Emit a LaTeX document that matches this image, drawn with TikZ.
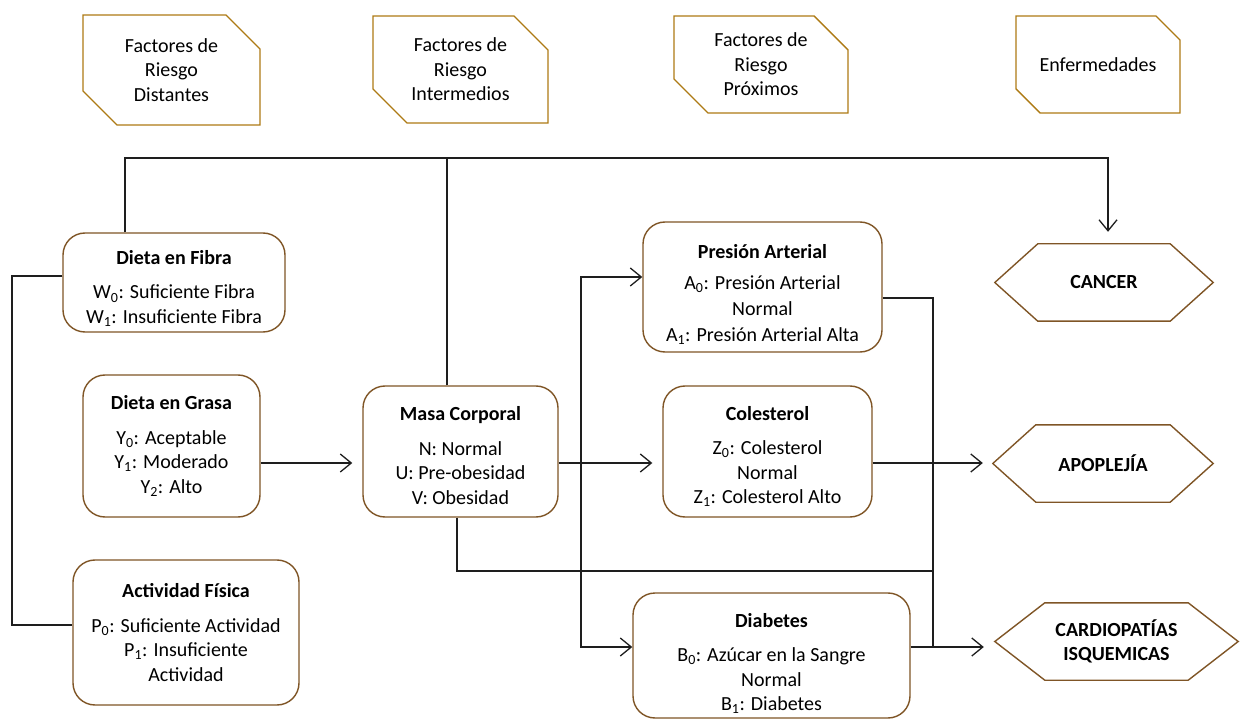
\documentclass[tikz,border=0pt]{standalone}
\usepackage{fontspec}
\setmainfont{Carlito}
\usetikzlibrary{arrows.meta,shapes.misc}
\definecolor{boxbrown}{HTML}{7F5526}
\definecolor{goldline}{HTML}{AD7A14}
\definecolor{wirecol}{HTML}{1E1E1E}

% outline of a pointed (hexagonal) label drawn round a named node
\newcommand{\hexframe}[2]{%
  \draw[boxbrown, line width=1.4pt, line join=miter]
    (#1.west) -- ([xshift=#2]#1.north west) -- ([xshift=-#2]#1.north east)
    -- (#1.east) -- ([xshift=-#2]#1.south east) -- ([xshift=#2]#1.south west) -- cycle;}
% taller first line: pushes the text block of a box downwards
\newcommand{\tdrop}[1]{\rule{0pt}{\dimexpr14pt+#1\relax}}

\begin{document}
\begin{tikzpicture}[x=1pt, y=-1pt,
  font=\fontsize{20}{24.5}\selectfont,
  rbox/.style={draw=boxbrown, line width=1.4pt, rounded corners=22pt,
    align=center, inner sep=0pt, fill=white},
  hbox/.style={chamfered rectangle,
    chamfered rectangle corners={north east, south west},
    chamfered rectangle xsep=17pt, chamfered rectangle ysep=17pt,
    draw=goldline, line width=1.4pt, align=center, inner sep=0pt},
  hexnode/.style={draw=none, align=center, inner sep=0pt, font=\fontsize{20}{24.5}\selectfont\bfseries},
  wire/.style={draw=wirecol, line width=1.3pt},
  arr/.style={wire, -{Straight Barb[length=11pt, width=18pt, line width=1.3pt]}},
]
\useasboundingbox (0,0) rectangle (1243,719);

% header labels
\node[hbox, minimum width=177pt, minimum height=110pt] (h1) at (171.5,70)
  {Factores de\\Riesgo\\Distantes};
\node[hbox, minimum width=175pt, minimum height=107pt] (h2) at (460.5,69.5)
  {Factores de\\Riesgo\\Intermedios};
\node[hbox, minimum width=174pt, minimum height=97pt] (h3) at (761,64.5)
  {Factores de\\Riesgo\\Próximos};
\node[hbox, minimum width=164pt, minimum height=97pt] (h4) at (1098,64.5)
  {Enfermedades};

% risk factor boxes
\node[rbox, minimum width=222pt, minimum height=99pt] (fibra) at (174,282.5)
  {\tdrop{12pt}\textbf{Dieta en Fibra}\\[10pt]
   W\textsubscript{0}: Suficiente Fibra\\
   W\textsubscript{1}: Insuficiente Fibra};
\node[rbox, minimum width=177pt, minimum height=142pt] (grasa) at (171.5,446)
  {\textbf{Dieta en Grasa}\\[10pt]
   Y\textsubscript{0}: Aceptable\\
   Y\textsubscript{1}: Moderado\\
   Y\textsubscript{2}: Alto};
\node[rbox, minimum width=226pt, minimum height=145pt] (act) at (186,632.5)
  {\textbf{Actividad Física}\\[10pt]
   P\textsubscript{0}: Suficiente Actividad\\
   P\textsubscript{1}: Insuficiente\\
   Actividad};
\node[rbox, minimum width=195pt, minimum height=131pt] (masa) at (460.5,451.5)
  {\tdrop{8pt}\textbf{Masa Corporal}\\[10pt]
   N: Normal\\
   U: Pre-obesidad\\
   V: Obesidad};
\node[rbox, minimum width=239pt, minimum height=130pt] (pres) at (762.5,287)
  {\tdrop{15pt}\textbf{Presión Arterial}\\[7pt]
   A\textsubscript{0}: Presión Arterial\\[1.5pt]
   Normal\\[1.5pt]
   A\textsubscript{1}: Presión Arterial Alta};
\node[rbox, minimum width=209pt, minimum height=131pt] (col) at (767.5,451.5)
  {\tdrop{10pt}\textbf{Colesterol}\\[10pt]
   Z\textsubscript{0}: Colesterol\\
   Normal\\
   Z\textsubscript{1}: Colesterol Alto};
\node[rbox, minimum width=277pt, minimum height=125pt] (diab) at (771.5,655.5)
  {\tdrop{16pt}\textbf{Diabetes}\\[10pt]
   B\textsubscript{0}: Azúcar en la Sangre\\
   Normal\\
   B\textsubscript{1}: Diabetes};

% diseases
\node[hexnode, minimum width=218pt, minimum height=77pt] (cancer) at (1104,282.5) {CANCER};
\node[hexnode, minimum width=220pt, minimum height=77pt] (apop) at (1103,463.5) {APOPLEJÍA};
\node[hexnode, minimum width=243pt, minimum height=77pt] (cardio) at (1116.5,641.5)
  {CARDIOPATÍAS\\ISQUEMICAS};
\hexframe{cancer}{43pt}
\hexframe{apop}{43pt}
\hexframe{cardio}{50pt}

% routing levels
\coordinate (topbus) at (0,158);
\coordinate (midrow) at (0,463);
\coordinate (lowrow) at (0,571);
\coordinate (diabrow) at (0,647);
\coordinate (rbus) at (933,0);
\coordinate (fk) at (581,463);
\coordinate (cin) at ([xshift=4pt]cancer.north);

% connectors
\draw[arr, shorten >=12pt] ([xshift=-49pt]fibra.north) |- (topbus -| cin) -- (cin);
\draw[wire] ([xshift=-13.5pt]masa.north) -- ([xshift=-13.5pt]masa.north |- topbus);
\draw[wire] ([yshift=6.5pt]fibra.west) -| (12,450) |- ([yshift=7.5pt]act.west);
\draw[arr, shorten >=10pt] (grasa.east |- midrow) -- (masa.west |- midrow);
\draw[arr, shorten >=10pt] (masa.east |- midrow) -- (col.west |- midrow);
\draw[arr] (fk) |- ([yshift=10pt]pres.west);
\draw[arr] (fk) |- ([yshift=8.5pt]diab.west);
\draw[wire] ([xshift=-3.5pt]masa.south) |- (lowrow -| rbus);
\draw[wire] ([yshift=-11pt]pres.east) -| (rbus |- diabrow);
\draw[arr, shorten >=10pt] (col.east |- midrow) -- (apop.west |- midrow);
\draw[arr, shorten >=11pt] ([yshift=8.5pt]diab.east) -- (cardio.west |- diabrow);
\end{tikzpicture}
\end{document}
